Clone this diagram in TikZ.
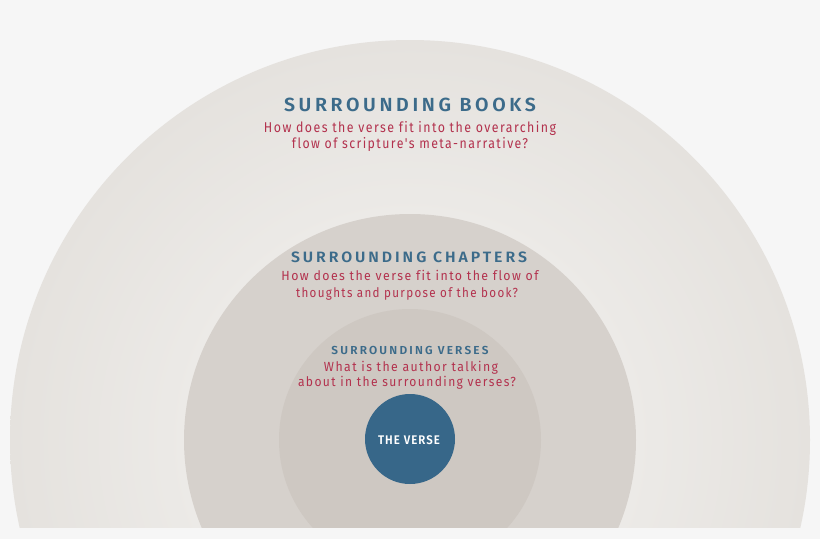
\documentclass[tikz,border=0pt]{standalone}
\usepackage{fontspec}
\usepackage{graphicx}
\newfontfamily\dintitle{Fira Sans}[FakeStretch=0.86, LetterSpace=16, BoldFont={Fira Sans SemiBold}]
\newfontfamily\dinverse{Fira Sans}[FakeStretch=0.86, LetterSpace=8, BoldFont={Fira Sans SemiBold}]
\newfontfamily\dintext{Fira Sans}[FakeStretch=0.86, LetterSpace=10, Ligatures=NoCommon]
\definecolor{bgc}{HTML}{F6F6F6}
\definecolor{ringA}{HTML}{ECEAE7}
\definecolor{ringB}{HTML}{E5E2DE}
\definecolor{midc}{HTML}{D6D1CC}
\definecolor{innc}{HTML}{CEC8C2}
\definecolor{versec}{HTML}{376789}
\definecolor{titc}{HTML}{3C6B8A}
\definecolor{redc}{HTML}{B3324E}
\pgfdeclareradialshading{outerring}{\pgfpointorigin}{color(0bp)=(ringA); color(14bp)=(ringA); color(25bp)=(ringB); color(50bp)=(ringB)}
\newcommand{\fitw}[2]{\resizebox{#1}{\height}{#2}}
\tikzset{
  ttl/.style={anchor=base, inner sep=0pt, text=titc, font=\dintitle\bfseries},
  qst/.style={anchor=base, inner sep=0pt, text=redc, font=\dintext},
}
\begin{document}
\begin{tikzpicture}[x=1pt,y=-1pt]
\fill[bgc] (0,0) rectangle (820,539);
\useasboundingbox (0,0) rectangle (820,539);
\begin{scope}
\clip (0,0) rectangle (820,527);
\path[shading=outerring] (410,440) circle[radius=400pt];
\fill[midc] (410,440) circle[radius=226pt];
\fill[innc] (410,440) circle[radius=131pt];
\end{scope}
\node[circle, fill=versec, minimum size=90pt, inner sep=0pt] (verse) at (410,439) {};
\node[anchor=base, inner sep=0pt, text=white, font=\dinverse\bfseries\fontsize{12.5}{13}\selectfont] (versetxt) at (409,444.5) {\fitw{62pt}{THE VERSE}};
% books
\node[ttl, font=\dintitle\bfseries\fontsize{19}{20}\selectfont] (booksT) at (410,111) {\fitw{252pt}{SURROUNDING BOOKS}};
\node[qst, font=\dintext\fontsize{14.2}{15}\selectfont] (booksA) at (410,132) {\fitw{292pt}{How does the verse fit into the overarching}};
\node[qst, font=\dintext\fontsize{14.2}{15}\selectfont] (booksB) at (410,148) {\fitw{236pt}{flow of scripture's meta-narrative?}};
% chapters
\node[ttl, font=\dintitle\bfseries\fontsize{15}{16}\selectfont] (chapT) at (409,262) {\fitw{236pt}{SURROUNDING CHAPTERS}};
\node[qst, font=\dintext\fontsize{13.2}{14}\selectfont] (chapA) at (410,280) {\fitw{257pt}{How does the verse fit into the flow of}};
\node[qst, font=\dintext\fontsize{13.2}{14}\selectfont] (chapB) at (407,297) {\fitw{222pt}{thoughts and purpose of the book?}};
% verses
\node[ttl, font=\dintitle\bfseries\fontsize{11.6}{12}\selectfont] (verT) at (410,354) {\fitw{157pt}{SURROUNDING VERSES}};
\node[qst, font=\dintext\fontsize{13.2}{14}\selectfont] (verA) at (411,371.5) {\fitw{174pt}{What is the author talking}};
\node[qst, font=\dintext\fontsize{13.2}{14}\selectfont] (verB) at (407,386.5) {\fitw{218pt}{about in the surrounding verses?}};
\end{tikzpicture}
\end{document}
